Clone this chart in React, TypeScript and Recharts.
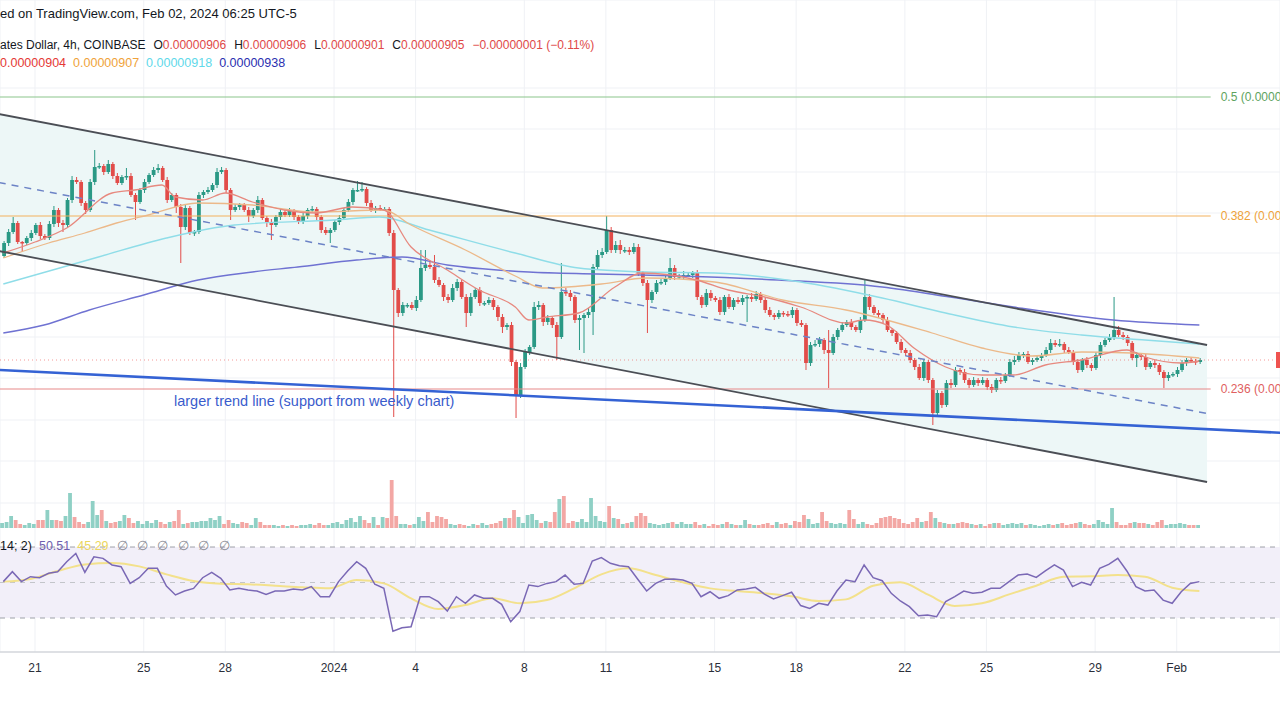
import React from 'react';
import {
  ComposedChart,
  Bar,
  Line,
  Area,
  XAxis,
  YAxis,
  CartesianGrid,
  ReferenceLine,
  ReferenceArea,
} from 'recharts';

// price values are in units of 1e-11 (905 -> 0.00000905)
const firstOpen = 1009;

const closes = [
  1022, 1033, 1042, 1023, 1022, 1027, 1032, 1040, 1029, 1027,
  1041, 1055, 1042, 1040, 1065, 1085, 1083, 1062, 1055, 1083,
  1098, 1099, 1093, 1101, 1089, 1082, 1088, 1089, 1070, 1063,
  1075, 1083, 1090, 1095, 1097, 1085, 1065, 1070, 1058, 1038,
  1057, 1032, 1033, 1070, 1073, 1075, 1080, 1093, 1095, 1075,
  1055, 1058, 1060, 1055, 1049, 1055, 1065, 1047, 1043, 1040,
  1048, 1053, 1050, 1054, 1048, 1043, 1049, 1055, 1056, 1048,
  1035, 1032, 1035, 1043, 1047, 1055, 1063, 1075, 1075, 1076,
  1062, 1055, 1057, 1056, 1056, 1032, 975, 952, 960, 960,
  957, 965, 997, 1000, 998, 985, 980, 968, 965, 977,
  983, 968, 952, 968, 975, 962, 962, 965, 958, 948,
  938, 940, 903, 870, 898, 913, 918, 958, 960, 943,
  947, 940, 928, 973, 972, 968, 945, 947, 950, 953,
  998, 1010, 1013, 1035, 1015, 1020, 1015, 1015, 1013, 1018,
  992, 982, 965, 973, 982, 983, 987, 997, 988, 989,
  990, 990, 992, 968, 960, 972, 967, 965, 953, 968,
  958, 965, 963, 967, 968, 966, 971, 965, 955, 950,
  948, 952, 951, 950, 955, 942, 940, 902, 920, 921,
  925, 915, 912, 928, 935, 940, 943, 938, 935, 945,
  968, 958, 952, 950, 945, 935, 932, 923, 915, 912,
  905, 898, 887, 903, 885, 852, 872, 860, 882, 880,
  895, 893, 885, 880, 885, 882, 885, 878, 875, 885,
  884, 890, 903, 905, 910, 911, 903, 905, 907, 910,
  915, 922, 920, 921, 915, 913, 903, 895, 905, 900,
  897, 910, 920, 925, 928, 935, 930, 928, 922, 907,
  910, 908, 898, 902, 900, 893, 887, 890, 891, 895,
  902, 905, 904, 903, 905,
];

const upperWicks = [
  2, 3, 6, 2, 1, 2, 3, 2, 3, 2,
  3, 4, 2, 3, 2, 4, 3, 2, 2, 3,
  17, 3, 2, 4, 2, 3, 2, 8, 3, 2,
  2, 3, 2, 3, 4, 2, 3, 2, 2, 3,
  3, 2, 2, 3, 2, 3, 2, 4, 3, 2,
  2, 3, 2, 2, 3, 2, 4, 2, 2, 3,
  2, 3, 2, 3, 2, 2, 3, 2, 3, 2,
  2, 3, 2, 2, 3, 2, 3, 2, 9, 7,
  2, 3, 2, 3, 2, 2, 3, 2, 3, 2,
  3, 4, 18, 15, 3, 12, 3, 2, 3, 4,
  3, 2, 3, 4, 2, 3, 2, 3, 2, 2,
  3, 2, 3, 2, 4, 3, 2, 5, 4, 2,
  3, 2, 3, 29, 4, 3, 2, 3, 2, 4,
  3, 5, 4, 14, 3, 4, 5, 3, 3, 4,
  3, 2, 3, 2, 3, 3, 2, 10, 3, 2,
  4, 3, 2, 3, 2, 4, 3, 2, 3, 2,
  3, 2, 3, 3, 2, 4, 3, 2, 2, 3,
  2, 3, 2, 3, 3, 2, 3, 2, 3, 4,
  3, 2, 20, 3, 2, 3, 2, 3, 2, 3,
  17, 3, 2, 3, 2, 3, 2, 2, 3, 2,
  3, 2, 3, 3, 2, 2, 3, 2, 3, 4,
  3, 2, 3, 2, 3, 2, 3, 2, 3, 2,
  3, 2, 3, 4, 3, 2, 3, 2, 3, 2,
  3, 4, 3, 5, 2, 3, 2, 3, 2, 3,
  2, 3, 3, 2, 3, 33, 4, 3, 2, 2,
  3, 2, 3, 2, 3, 2, 2, 3, 2, 3,
  3, 2, 3, 2, 2,
];

const lowerWicks = [
  2, 3, 2, 2, 9, 2, 3, 2, 3, 2,
  2, 3, 4, 7, 2, 3, 2, 3, 4, 2,
  3, 2, 3, 2, 3, 2, 2, 3, 2, 18,
  2, 3, 2, 2, 3, 2, 3, 2, 6, 36,
  3, 2, 3, 2, 3, 2, 2, 3, 2, 3,
  10, 2, 3, 2, 6, 2, 3, 2, 5, 15,
  2, 3, 2, 2, 3, 2, 2, 3, 2, 3,
  3, 2, 10, 2, 3, 2, 2, 3, 2, 2,
  3, 2, 3, 2, 2, 3, 127, 4, 3, 3,
  2, 3, 2, 3, 2, 3, 2, 4, 3, 2,
  3, 2, 14, 3, 2, 3, 3, 2, 3, 4,
  6, 3, 4, 23, 3, 2, 3, 2, 3, 4,
  3, 3, 23, 2, 3, 4, 3, 30, 35, 3,
  23, 2, 3, 2, 3, 3, 4, 3, 3, 2,
  3, 3, 33, 3, 2, 2, 3, 2, 3, 2,
  3, 2, 3, 3, 3, 2, 3, 2, 3, 3,
  2, 3, 2, 3, 24, 3, 2, 3, 3, 2,
  3, 2, 3, 2, 3, 3, 2, 7, 3, 2,
  3, 4, 35, 2, 3, 2, 2, 3, 2, 3,
  2, 3, 2, 3, 3, 2, 3, 2, 3, 3,
  3, 3, 2, 3, 3, 12, 3, 3, 2, 3,
  2, 3, 3, 3, 2, 3, 2, 3, 3, 2,
  3, 2, 2, 3, 2, 3, 2, 3, 2, 3,
  2, 3, 2, 2, 3, 2, 3, 3, 2, 3,
  3, 2, 3, 2, 2, 3, 2, 3, 3, 2,
  9, 3, 3, 2, 3, 3, 10, 3, 2, 3,
  2, 3, 2, 3, 2,
];

const volumes = [
  5, 6, 12, 8, 4, 3, 5, 4, 8, 8,
  18, 8, 8, 7, 12, 35, 11, 6, 4, 6,
  27, 13, 18, 7, 5, 6, 7, 13, 10, 5,
  7, 4, 7, 5, 8, 6, 4, 6, 7, 18,
  4, 5, 6, 6, 7, 7, 10, 8, 12, 4,
  8, 5, 4, 6, 5, 3, 10, 6, 3, 3,
  3, 2, 3, 2, 3, 2, 3, 3, 4, 3,
  5, 3, 3, 5, 6, 4, 8, 10, 6, 12,
  8, 5, 11, 3, 11, 10, 48, 12, 4, 4,
  3, 4, 11, 7, 16, 6, 12, 11, 9, 4,
  3, 4, 3, 2, 4, 3, 5, 3, 4, 5,
  7, 10, 10, 18, 11, 5, 13, 14, 8, 5,
  7, 6, 16, 29, 32, 5, 7, 6, 9, 6,
  30, 12, 7, 6, 22, 10, 9, 4, 5, 6,
  12, 15, 12, 5, 4, 3, 4, 5, 6, 4,
  6, 4, 4, 6, 3, 4, 2, 4, 3, 4,
  6, 4, 3, 3, 8, 4, 3, 3, 4, 5,
  3, 6, 4, 5, 3, 7, 6, 13, 9, 4,
  5, 16, 7, 5, 4, 5, 4, 18, 9, 4,
  6, 4, 3, 5, 10, 11, 12, 10, 9, 5,
  4, 6, 10, 6, 7, 16, 10, 6, 5, 4,
  4, 5, 6, 5, 4, 3, 4, 2, 4, 5,
  5, 3, 4, 5, 4, 5, 3, 4, 3, 2,
  3, 4, 3, 4, 5, 3, 4, 5, 6, 4,
  3, 4, 8, 6, 4, 20, 6, 3, 3, 5,
  6, 5, 5, 4, 3, 6, 8, 3, 4, 4,
  5, 4, 3, 3, 3,
];

// moving averages read at a few candles: [candle index, value]
const maFast: [number, number][] = [
  [0, 1012], [7, 1023], [14, 1037], [24, 1072], [29, 1075], [35, 1080], [38, 1068],
  [44, 1065], [49, 1072], [55, 1063], [62, 1055], [69, 1052], [77, 1058], [84, 1055],
  [90, 1018], [98, 995], [105, 975], [113, 958], [116, 945], [120, 948], [127, 952],
  [135, 978], [141, 992], [153, 985], [160, 975], [168, 968], [176, 958], [186, 942],
  [190, 945], [195, 940], [201, 917], [208, 898], [216, 890], [223, 890], [230, 900],
  [238, 905], [248, 915], [252, 908], [260, 902], [264, 904],
];
const maMid: [number, number][] = [
  [0, 1007], [10, 1022], [18, 1032], [25, 1042], [32, 1050], [43, 1062], [55, 1060],
  [69, 1053], [84, 1055], [90, 1040], [102, 1015], [113, 989], [119, 977], [132, 981],
  [142, 987], [157, 983], [172, 965], [186, 955], [205, 932], [216, 917], [227, 909],
  [238, 913], [249, 912], [264, 907],
];
const maSlow: [number, number][] = [
  [0, 981], [21, 1008], [36, 1027], [51, 1040], [73, 1045], [83, 1048], [94, 1035],
  [113, 1012], [127, 997], [142, 993], [157, 992], [176, 983], [194, 967], [208, 952],
  [223, 938], [238, 930], [252, 925], [264, 921],
];
const maLong: [number, number][] = [
  [0, 932], [9, 940], [19, 955], [31, 970], [43, 985], [55, 993], [65, 998], [78, 1005],
  [88, 1008], [98, 1000], [116, 993], [131, 991], [149, 989], [171, 985], [194, 978],
  [209, 968], [223, 958], [245, 945], [264, 940],
];

// RSI, one value every second candle
const rsiValues = [
  50.5, 56.1, 50.5, 53.3, 52.7, 55.2, 56.1, 61.7, 66.4, 55.7,
  64.5, 63.6, 59.9, 58.9, 49.5, 52.7, 58.0, 58.0, 48.0, 43.0,
  45.2, 46.7, 52.7, 55.7, 52.4, 45.8, 46.7, 45.8, 45.2, 43.3,
  45.2, 45.2, 46.3, 45.8, 47.7, 42.0, 42.0, 50.5, 56.5, 61.7,
  58.0, 49.0, 46.7, 22.5, 24.5, 25.1, 42.0, 42.0, 39.2, 33.9,
  42.0, 38.3, 43.0, 41.1, 41.1, 37.7, 27.9, 33.6, 48.6, 47.7,
  49.5, 50.5, 54.2, 49.0, 49.5, 62.1, 64.0, 60.8, 59.5, 58.9,
  52.0, 45.2, 49.5, 51.8, 52.0, 51.4, 49.5, 42.0, 44.8, 41.1,
  42.6, 45.8, 46.3, 47.3, 43.5, 40.7, 42.6, 44.5, 37.0, 35.4,
  38.3, 37.3, 45.2, 51.4, 50.5, 59.9, 52.7, 51.0, 43.9, 39.6,
  36.4, 31.3, 31.7, 30.7, 39.2, 42.0, 45.2, 43.9, 44.5, 46.7,
  46.7, 50.5, 54.2, 54.8, 52.9, 56.5, 59.9, 57.0, 47.7, 50.1,
  48.6, 58.0, 60.2, 63.6, 56.5, 47.7, 45.2, 45.8, 40.1, 38.3,
  44.8, 49.5, 50.5,
];
const rsiMa: [number, number][] = [
  [0, 50.5], [6, 52.0], [12, 56.5], [18, 60.2], [24, 61.0], [30, 59.1], [36, 54.6],
  [42, 50.8], [48, 49.3], [54, 49.0], [60, 48.2], [66, 47.3], [72, 46.7], [78, 51.4],
  [84, 49.5], [90, 41.1], [96, 35.1], [102, 37.3], [108, 41.1], [114, 38.3], [120, 40.1],
  [126, 46.7], [132, 54.6], [138, 58.0], [144, 54.2], [150, 50.1], [156, 46.7],
  [162, 45.2], [168, 43.9], [174, 42.2], [180, 39.6], [186, 40.5], [192, 48.2],
  [198, 50.1], [204, 43.3], [210, 36.8], [216, 38.3], [222, 43.3], [228, 48.2],
  [234, 53.3], [240, 53.5], [246, 54.2], [252, 53.3], [258, 47.1], [264, 45.2],
];

// drawings: [candle index, price]
const channelTop: [number, number][] = [[-1, 1151], [265.7, 920]];
const channelBottom: [number, number][] = [[-1, 1014], [265.7, 783]];
const trendLine: [number, number][] = [[-1, 895], [283, 832]];
const fibLevels = [
  { label: '0.5 (0.0000', price: 1168, line: '#8cc68c', text: '#5ea35e' },
  { label: '0.382 (0.00', price: 1049, line: '#f3b25e', text: '#eea23a' },
  { label: '0.236 (0.00', price: 876, line: '#e88a8a', text: '#e06060' },
];
const lastPrice = 905;

const dayTicks = [7, 31, 49, 73, 91, 115, 133, 157, 175, 199, 217, 241, 259];
const dayLabels = ['21', '25', '28', '2024', '4', '8', '11', '15', '18', '22', '25', '29', 'Feb'];
const gridPrices = [1177, 1136, 1093, 1052, 1012, 972, 928, 887, 845, 804, 762];

const X_MIN = -0.73;
const X_MAX = 281.8;
const BODY_W = 3.8;
const UP = '#2a9985';
const DOWN = '#e24c49';
const FONT = '"Liberation Sans", Arial, sans-serif';

const candles = closes.map((c, i) => {
  const o = i === 0 ? firstOpen : closes[i - 1];
  const high = Math.max(o, c) + upperWicks[i];
  const low = Math.min(o, c) - lowerWicks[i];
  return { i, open: o, close: c, high, low, range: [low, high], volume: volumes[i], up: c >= o };
});

const pairs = (arr: [number, number][]) => arr.map(([i, v]) => ({ i, v }));
const rsiData = rsiValues.map((v, k) => ({ i: k * 2, v }));
const channelData = channelTop.map(([i, top], k) => ({
  i,
  top,
  bottom: channelBottom[k][1],
  mid: (top + channelBottom[k][1]) / 2,
  band: [channelBottom[k][1], top],
}));

const CandleShape = (props: any) => {
  const { x, y, width, height, payload } = props;
  if (x == null || y == null) return null;
  const top = Math.min(y, y + height);
  const h = Math.abs(height);
  const span = payload.high - payload.low || 1;
  const toY = (v: number) => top + ((payload.high - v) / span) * h;
  const color = payload.up ? UP : DOWN;
  const cx = x + width / 2;
  const bTop = toY(Math.max(payload.open, payload.close));
  const bBot = toY(Math.min(payload.open, payload.close));
  return (
    <g>
      <line x1={cx} x2={cx} y1={top} y2={top + h} stroke={color} strokeWidth={1} />
      <rect
        x={cx - BODY_W / 2}
        y={bTop}
        width={BODY_W}
        height={Math.max(1.5, bBot - bTop)}
        fill={color}
      />
    </g>
  );
};

const VolumeShape = (props: any) => {
  const { x, y, width, height, payload } = props;
  if (x == null || y == null) return null;
  const cx = x + width / 2;
  return (
    <rect
      x={cx - BODY_W / 2}
      y={Math.min(y, y + height)}
      width={BODY_W}
      height={Math.abs(height)}
      fill={payload.up ? '#8fd0c5' : '#f3a7a4'}
    />
  );
};

const PriceTag = (props: any) => {
  const vb = props.viewBox || {};
  return <rect x={vb.x + vb.width - 4} y={vb.y - 8} width={8} height={16} fill="#ef5350" />;
};

const abs = (left: number, top: number, extra: React.CSSProperties = {}): React.CSSProperties => ({
  position: 'absolute',
  left,
  top,
  whiteSpace: 'nowrap',
  fontFamily: FONT,
  lineHeight: '16px',
  ...extra,
});

const App: React.FC = () => {
  return (
    <div
      style={{
        position: 'fixed',
        left: 0,
        top: 0,
        width: 1280,
        height: 720,
        background: '#ffffff',
        overflow: 'hidden',
      }}
    >
      <ComposedChart
        width={1280}
        height={720}
        data={candles}
        margin={{ top: 0, right: 0, bottom: 0, left: 0 }}
        style={{ fontFamily: FONT }}
      >
        <XAxis
          dataKey="i"
          type="number"
          domain={[X_MIN, X_MAX]}
          allowDataOverflow
          ticks={dayTicks}
          interval={0}
          tickFormatter={(v) => dayLabels[dayTicks.indexOf(v)] ?? ''}
          tickLine={false}
          axisLine={{ stroke: '#c5c8ce' }}
          tick={{ fontSize: 12, fill: '#2a2e39' }}
          tickMargin={5}
          height={68}
        />
        <YAxis yAxisId="price" hide type="number" domain={[613, 1265]} ticks={gridPrices} allowDataOverflow />
        <YAxis yAxisId="vol" hide type="number" domain={[-124, 528]} allowDataOverflow />
        <YAxis yAxisId="rsi" hide type="number" domain={[10.85, 378.2]} allowDataOverflow />
        <CartesianGrid yAxisId="price" stroke="#eff1f5" strokeWidth={1} />

        <Area
          yAxisId="price"
          data={channelData}
          dataKey="band"
          type="linear"
          stroke="none"
          fill="#edf7f7"
          fillOpacity={1}
          activeDot={false}
          isAnimationActive={false}
        />
        <ReferenceArea yAxisId="rsi" y1={30} y2={70} fill="#f2eff9" fillOpacity={1} stroke="none" ifOverflow="hidden" />
        <ReferenceLine yAxisId="rsi" y={70} stroke="#9ea1a8" strokeDasharray="5 5" />
        <ReferenceLine yAxisId="rsi" y={50} stroke="#c3c5ca" strokeDasharray="5 5" />
        <ReferenceLine yAxisId="rsi" y={30} stroke="#9ea1a8" strokeDasharray="5 5" />

        {fibLevels.map((f) => (
          <ReferenceLine
            key={f.label}
            yAxisId="price"
            ifOverflow="hidden"
            segment={[
              { x: X_MIN, y: f.price },
              { x: 266.5, y: f.price },
            ]}
            stroke={f.line}
            strokeWidth={1.2}
            label={{ value: f.label, position: 'right', offset: 10, fill: f.text, fontSize: 12 }}
          />
        ))}
        <ReferenceLine
          yAxisId="price"
          y={lastPrice}
          stroke="#ef5350"
          strokeOpacity={0.6}
          strokeDasharray="1 3"
          label={<PriceTag />}
        />

        <Line yAxisId="price" data={pairs(maLong)} dataKey="v" type="monotone" stroke="#6f72d2" strokeWidth={1.4} dot={false} activeDot={false} isAnimationActive={false} />
        <Line yAxisId="price" data={pairs(maSlow)} dataKey="v" type="monotone" stroke="#8fdde8" strokeWidth={1.4} dot={false} activeDot={false} isAnimationActive={false} />
        <Line yAxisId="price" data={pairs(maMid)} dataKey="v" type="monotone" stroke="#ecb98a" strokeWidth={1.3} dot={false} activeDot={false} isAnimationActive={false} />
        <Line yAxisId="price" data={pairs(maFast)} dataKey="v" type="monotone" stroke="#e7897f" strokeWidth={1.3} dot={false} activeDot={false} isAnimationActive={false} />

        <Line yAxisId="price" data={channelData} dataKey="top" type="linear" stroke="#4b4e55" strokeWidth={1.8} dot={false} activeDot={false} isAnimationActive={false} />
        <Line yAxisId="price" data={channelData} dataKey="bottom" type="linear" stroke="#4b4e55" strokeWidth={1.8} dot={false} activeDot={false} isAnimationActive={false} />
        <Line yAxisId="price" data={channelData} dataKey="mid" type="linear" stroke="#6c83c6" strokeWidth={1.5} strokeDasharray="7 6" dot={false} activeDot={false} isAnimationActive={false} />
        <Line yAxisId="price" data={pairs(trendLine)} dataKey="v" type="linear" stroke="#3462d4" strokeWidth={2.6} dot={false} activeDot={false} isAnimationActive={false} />

        <Bar yAxisId="vol" dataKey="volume" barSize={3} shape={<VolumeShape />} isAnimationActive={false} />
        <Bar yAxisId="price" dataKey="range" barSize={3} shape={<CandleShape />} isAnimationActive={false} />

        <Line yAxisId="rsi" data={pairs(rsiMa)} dataKey="v" type="monotone" stroke="#f3e18c" strokeWidth={2} dot={false} activeDot={false} isAnimationActive={false} />
        <Line yAxisId="rsi" data={rsiData} dataKey="v" type="linear" stroke="#7a68b5" strokeWidth={1.5} dot={false} activeDot={false} isAnimationActive={false} />
      </ComposedChart>

      <div style={abs(0, 6, { fontSize: 13, color: '#131722' })}>
        ed on TradingView.com, Feb 02, 2024 06:25 UTC-5
      </div>
      <div style={abs(0, 37, { fontSize: 12, color: '#131722' })}>
        <span>ates Dollar, 4h, COINBASE</span>
        <span style={{ marginLeft: 8 }}>O</span>
        <span style={{ color: '#e04848' }}>0.00000906</span>
        <span style={{ marginLeft: 8 }}>H</span>
        <span style={{ color: '#e04848' }}>0.00000906</span>
        <span style={{ marginLeft: 8 }}>L</span>
        <span style={{ color: '#e04848' }}>0.00000901</span>
        <span style={{ marginLeft: 8 }}>C</span>
        <span style={{ color: '#e04848' }}>0.00000905</span>
        <span style={{ marginLeft: 8, color: '#e04848' }}>−0.00000001 (−0.11%)</span>
      </div>
      <div style={abs(0, 55, { fontSize: 12.5 })}>
        <span style={{ color: '#e53935' }}>0.00000904</span>
        <span style={{ marginLeft: 7, color: '#f0a33a' }}>0.00000907</span>
        <span style={{ marginLeft: 7, color: '#5fd9ea' }}>0.00000918</span>
        <span style={{ marginLeft: 7, color: '#2b2fb0' }}>0.00000938</span>
      </div>
      <div style={abs(174, 393, { fontSize: 14.5, color: '#3a5ccc' })}>
        larger trend line (support from weekly chart)
      </div>
      <div style={abs(0, 538, { fontSize: 12.5, color: '#131722' })}>
        <span>14; 2)</span>
        <span style={{ marginLeft: 7, color: '#6f5fae' }}>50.51</span>
        <span style={{ marginLeft: 7, color: '#ecd660' }}>45.29</span>
        <span style={{ marginLeft: 8, color: '#8a8d96', wordSpacing: 6 }}>∅ ∅ ∅ ∅ ∅ ∅</span>
      </div>
    </div>
  );
};

export default App;
